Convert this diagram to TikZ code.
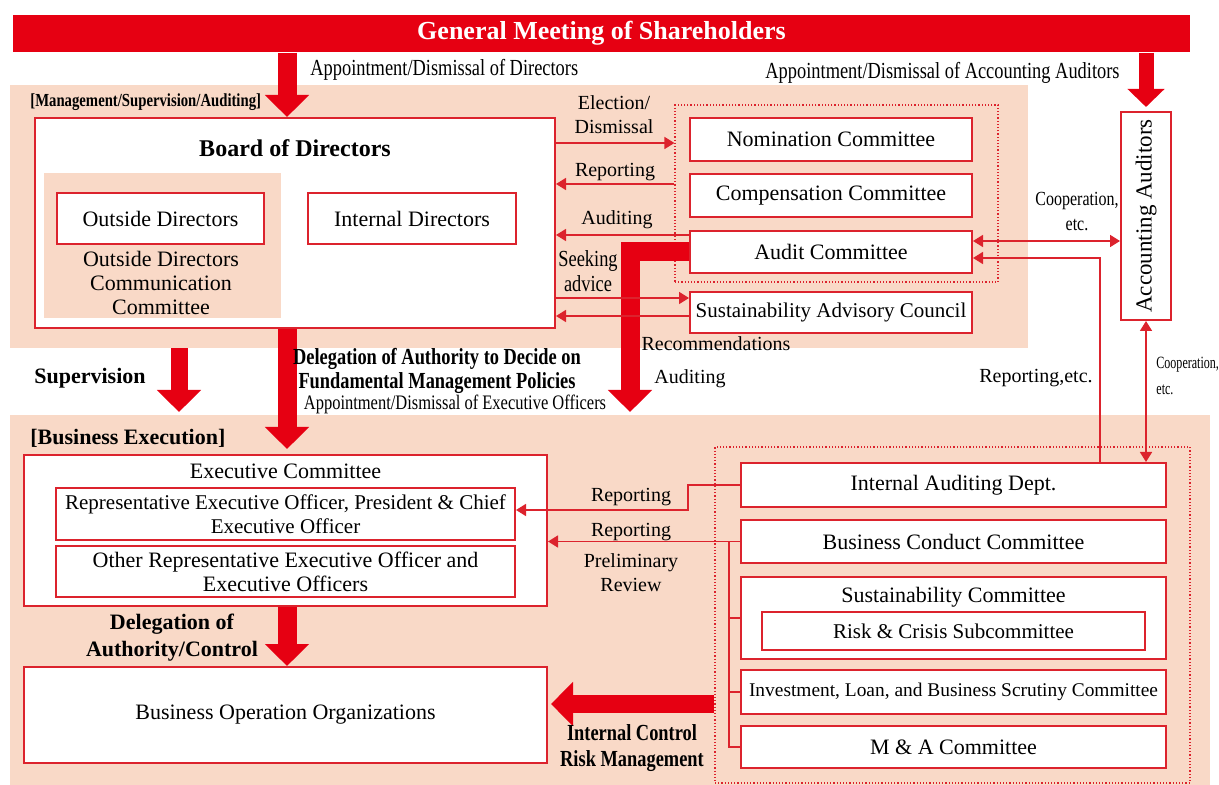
\documentclass[tikz,border=0pt]{standalone}
\usepackage{fontspec}
\setmainfont{Liberation Serif}
\newfontfamily\condfont[FakeStretch=0.8]{Liberation Serif}
\newfontfamily\narrowfont[FakeStretch=0.7]{Liberation Serif}
\usetikzlibrary{arrows.meta}
\definecolor{brandred}{RGB}{230,0,18}
\definecolor{linered}{RGB}{220,35,45}
\definecolor{peach}{RGB}{249,217,199}

\begin{document}
\begin{tikzpicture}[x=0.5pt, y=-0.5pt,
	>={Triangle[length=5pt,width=6pt]},
	box/.style={draw=linered, line width=1pt, fill=white, inner sep=0pt, align=center, font=\fontsize{11}{12}\selectfont},
	area/.style={fill=peach, inner sep=0pt},
	group/.style={draw=linered, densely dotted, line width=0.6pt, inner sep=0pt},
	tag/.style={inner sep=0pt, align=center, font=\fontsize{10}{12}\selectfont},
	ctag/.style={inner sep=0pt, align=center, font=\condfont\fontsize{11.5}{12.5}\selectfont},
	btag/.style={inner sep=0pt, align=center, font=\bfseries\fontsize{11}{13.5}\selectfont},
	link/.style={draw=linered, line width=0.8pt},
	fat/.style={draw=brandred, line width=9.5pt, -{Triangle[length=11pt,width=21.5pt]}}]
	\useasboundingbox (0,0) rectangle (1219,785);

	%background areas
	\node[area, minimum width=509pt, minimum height=131.5pt] (upper) at (519,216.5) {}; % management/supervision/auditing
	\node[area, minimum width=600pt, minimum height=185pt] (lower) at (610,600) {}; % business execution

	%shareholders bar
	\node[fill=brandred, minimum width=588.5pt, minimum height=18.5pt, text=white, font=\bfseries\fontsize{13}{15}\selectfont] (gms) at (601.5,33.5) {General Meeting of Shareholders};

	%
	% UPPER PART
	\node[box, minimum width=260pt, minimum height=105pt] (board) at (295,223) {};
	\node[area, minimum width=118.5pt, minimum height=72.5pt] (odcc) at (162,245.5) {};
	\node[box, minimum width=103.5pt, minimum height=25.5pt] (outside) at (160.5,218.5) {Outside Directors};
	\node[box, minimum width=104pt, minimum height=25.5pt] (internal) at (412,218.5) {Internal Directors};
	\node[btag, font=\bfseries\fontsize{12}{14}\selectfont] (bodname) at (295,148) {Board of Directors};
	\node[tag, font=\fontsize{11}{12}\selectfont] (odccname) at (161,283) {Outside Directors\\Communication\\Committee};
	\node[ctag, font=\condfont\bfseries\fontsize{9.2}{11}\selectfont, anchor=west] (mgmt) at (30,102) {[Management/Supervision/Auditing]};

	\node[group, minimum width=161.5pt, minimum height=88.5pt] (topgrp) at (836.5,193.5) {};
	\node[box, minimum width=141pt, minimum height=21.5pt] (nomination) at (831,139.5) {Nomination Committee};
	\node[box, minimum width=141pt, minimum height=21.5pt] (compensation) at (831,195.5) {Compensation Committee};
	\node[box, minimum width=141pt, minimum height=21pt] (audit) at (831,252) {Audit Committee};
	\node[box, minimum width=141pt, minimum height=20.5pt, font=\fontsize{10.5}{12}\selectfont] (sac) at (831,312.5) {Sustainability Advisory Council};

	\node[box, minimum width=25pt, minimum height=104pt] (accaud) at (1146,216) {};
	\node[tag, rotate=90, font=\fontsize{11.5}{13}\selectfont] (accaudname) at (1146,216) {Accounting Auditors};

	%
	% LOWER PART
	\node[ctag, font=\bfseries\fontsize{11}{13}\selectfont, anchor=west] (bizexec) at (30,438) {[Business Execution]};
	\node[box, minimum width=261.5pt, minimum height=75.5pt] (exec) at (285.5,530.5) {};
	\node[tag, font=\fontsize{11}{12}\selectfont] (execname) at (285.5,471) {Executive Committee};
	\node[box, minimum width=229.5pt, minimum height=26pt, font=\fontsize{10.5}{12}\selectfont] (rep) at (285.5,514) {Representative Executive Officer, President \& Chief\\Executive Officer};
	\node[box, minimum width=229.5pt, minimum height=25.5pt] (other) at (285.5,571.5) {Other Representative Executive Officer and\\Executive Officers};
	\node[box, minimum width=261.5pt, minimum height=48pt] (boo) at (285.5,715) {Business Operation Organizations};

	\node[group, minimum width=237.5pt, minimum height=168pt] (lowgrp) at (952.5,615) {};
	\node[box, minimum width=212.5pt, minimum height=22pt] (iad) at (953.5,485) {Internal Auditing Dept.};
	\node[box, minimum width=212.5pt, minimum height=21.5pt] (bcc) at (953.5,541.5) {Business Conduct Committee};
	\node[box, minimum width=212.5pt, minimum height=41pt] (susc) at (953.5,618) {};
	\node[tag, font=\fontsize{11}{12}\selectfont] (suscname) at (953.5,597) {Sustainability Committee};
	\node[box, minimum width=191.5pt, minimum height=19pt, font=\fontsize{10.5}{12}\selectfont] (risk) at (953.5,631) {Risk \& Crisis Subcommittee};
	\node[box, minimum width=212.5pt, minimum height=22pt, font=\fontsize{9.7}{12}\selectfont] (inv) at (953.5,692) {Investment, Loan, and Business Scrutiny Committee};
	\node[box, minimum width=212.5pt, minimum height=21pt] (ma) at (953.5,747) {M \& A Committee};

	%
	% helper coordinates
	\coordinate (dirX) at (287,0);
	\coordinate (supTip) at (179,412);
	\coordinate (audTip) at (630,412);
	\coordinate (icY) at (0,704);
	\coordinate (yElect) at (0,143);
	\coordinate (yRep) at (0,184);
	\coordinate (yAud) at (0,235);
	\coordinate (yAdv) at (0,298);
	\coordinate (yRec) at (0,316);
	\coordinate (yCoop) at (0,241);
	\coordinate (yRepEtc) at (0,258);
	\coordinate (xRepEtc) at (1100,0);
	\coordinate (cornerA) at (688,510);
	\coordinate (xBr) at (729,0);

	%
	% thick arrows
	\draw[fat] (gms.south -| dirX) -- (board.north -| dirX); % appointment of directors
	\draw[fat, line width=7.5pt, -{Triangle[length=9pt,width=18pt]}, shorten >=2pt] (gms.south -| accaud.north) -- (accaud.north); % appointment of auditors
	\draw[fat, line width=8.5pt] (upper.south -| supTip) -- (supTip); % supervision
	\draw[fat, shorten >=2.5pt] (board.south -| dirX) -- (exec.north -| dirX); % delegation
	\draw[fat] (audit.west) -| (audTip); % auditing
	\draw[fat] (exec.south -| dirX) -- (boo.north -| dirX); % delegation/control
	\draw[fat, line width=9pt, shorten >=1.5pt] (lowgrp.west |- icY) -- (boo.east |- icY); % internal control

	%
	% thin arrows
	\draw[link, ->] (board.east |- yElect) -- (topgrp.west |- yElect); % election
	\draw[link, ->] (topgrp.west |- yRep) -- (board.east |- yRep); % reporting
	\draw[link, ->] (audit.west |- yAud) -- (board.east |- yAud); % auditing
	\draw[link, ->] (board.east |- yAdv) -- (sac.west |- yAdv); % seeking advice
	\draw[link, ->] (sac.west |- yRec) -- (board.east |- yRec); % recommendations
	\draw[link, <->] (audit.east |- yCoop) -- (accaud.west |- yCoop); % cooperation
	\draw[link, ->] (iad.north -| xRepEtc) |- (audit.east |- yRepEtc); % reporting, etc.
	\draw[link, <->] (accaud.south) -- (iad.north -| accaud.south); % cooperation
	\draw[link, ->] (iad.west) -| (cornerA) -- (rep.east |- cornerA); % reporting
	\draw[link, ->] (bcc.west) -- (exec.east |- bcc.west); % reporting, preliminary review
	\draw[link] (bcc.west -| xBr) |- (ma.west);
	\draw[link] (susc.west -| xBr) -- (susc.west);
	\draw[link] (inv.west -| xBr) -- (inv.west);

	%
	% Text nodes
	\node[ctag, anchor=west] (apdir) at (310,70) {Appointment/Dismissal of Directors};
	\node[ctag, anchor=east] (apacc) at (1120,73) {Appointment/Dismissal of Accounting Auditors};
	\node[tag] (elect) at (614,115) {Election/\\Dismissal};
	\node[tag] (repa) at (615,172) {Reporting};
	\node[tag] (auda) at (617,220) {Auditing};
	\node[ctag] (advice) at (588,271) {Seeking\\advice};
	\node[tag] (recom) at (716,344) {Recommendations};
	\node[ctag, font=\condfont\fontsize{10}{12.5}\selectfont] (coopa) at (1077,212) {Cooperation,\\etc.};
	\node[btag] (superv) at (90,378) {Supervision};
	\node[ctag, font=\condfont\bfseries\fontsize{11.5}{12}\selectfont] (deleg) at (437,371) {Delegation of Authority to Decide on\\Fundamental Management Policies};
	\node[ctag, font=\condfont\fontsize{10.3}{12}\selectfont] (apexec) at (455,404) {Appointment/Dismissal of Executive Officers};
	\node[tag] (audb) at (690,379) {Auditing};
	\node[tag] (repetc) at (1036,378) {Reporting,etc.};
	\node[ctag, font=\narrowfont\fontsize{8.6}{13}\selectfont, anchor=north west, align=left] (coopb) at (1156,357) {Cooperation,\\etc.};
	\node[btag] (delctl) at (172,638) {Delegation of\\Authority/Control};
	\node[tag] (repb) at (631,497) {Reporting};
	\node[tag] (repc) at (631,532) {Reporting};
	\node[tag] (prelim) at (631,573) {Preliminary\\Review};
	\node[ctag, font=\condfont\bfseries\fontsize{11.5}{13}\selectfont] (icrm) at (632,748) {Internal Control\\Risk Management};
\end{tikzpicture}
\end{document}
